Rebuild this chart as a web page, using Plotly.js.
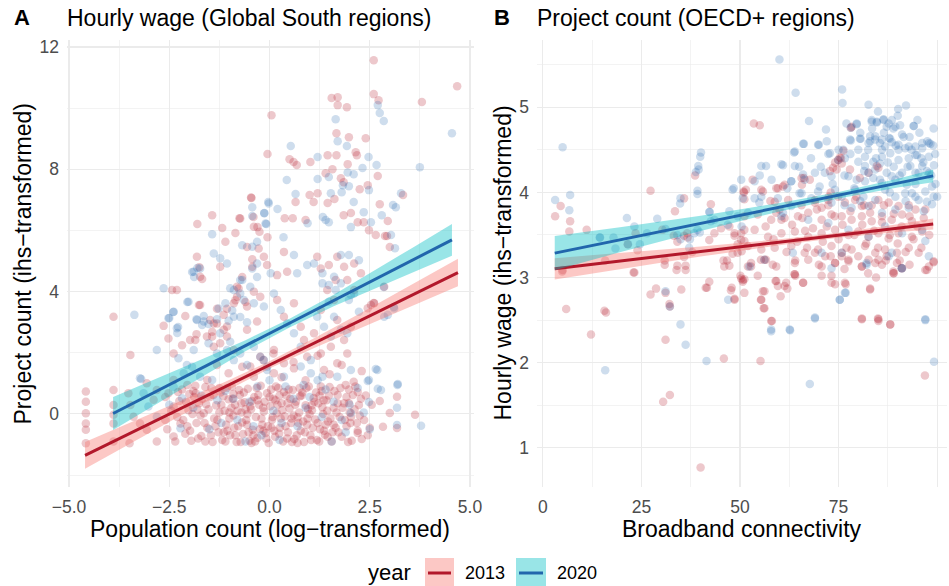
<!DOCTYPE html>
<html>
<head>
<meta charset="utf-8">
<script src="https://cdn.plot.ly/plotly-3.0.1.min.js"></script>
<style>
  html, body { margin: 0; padding: 0; background: #fff; }
  #chart { width: 949px; height: 586px; }
</style>
</head>
<body>
<div id="chart"></div>
<script>
// Panel A: Global South regions, [log population, ihs project count]
const southPts2013 = [
  [2.6,11.57],[4.68,10.72],[1.55,10.33],[1.7,10.36],[1.7,10.1],[1.93,10.03],[2.6,10.46],[2.72,10.26],[3.8,10.2],[0.05,9.77],
  [1.67,9.18],[1.98,9.05],[2.4,9.02],[-0.05,8.5],[0.5,8.33],[0.6,8.24],[0.68,8.14],[1.45,8.46],[1.67,8.46],[2.15,8.56],
  [2.18,8.46],[1.02,8.24],[1.95,8.17],[1.57,8.0],[1.4,7.87],[2.7,7.78],[1.78,7.71],[1.85,7.58],[2.45,7.48],[2.25,7.35],
  [1.0,7.16],[1.2,7.22],[3.33,7.16],[-0.45,7.06],[0.65,6.93],[1.1,6.93],[1.45,6.9],[1.62,7.03],[2.75,6.86],[-1.43,6.5],
  [-1.8,6.21],[-0.75,6.4],[-0.4,6.44],[-1.18,6.08],[-0.85,5.92],[-0.3,6.11],[0.38,6.4],[0.58,6.4],[-0.05,5.78],[0.9,6.34],
  [1.85,6.5],[2.03,6.57],[2.2,6.27],[2.35,6.27],[2.48,6.01],[2.65,5.85],[2.93,5.82],
  [-1.81,5.14],[-1.23,4.81],[-1.73,4.49],[-0.43,4.81],[-0.14,5.14],[-0.06,4.87],[0.36,5.3],[0.44,4.65],[0.19,4.54],[1.19,5.14],
  [1.28,4.76],[1.48,4.87],[1.69,5.14],[1.86,4.81],[2.11,4.92],[2.28,4.6],[1.65,4.38],[-2.43,4.05],[-2.31,4.05],[-1.73,3.56],
  [-1.48,3.07],[-2.64,2.88],[-2.52,2.47],[-2.18,2.25],[-1.85,2.42],[-2.39,1.98],[-1.43,2.69],[-1.31,2.96],[-1.14,3.24],[-0.89,3.62],
  [-0.81,3.83],[-0.56,3.51],[-0.81,4.16],[-0.39,4.0],[-0.23,3.83],[-1.56,2.53],[-1.39,2.2],[-1.06,2.53],[-0.89,2.09],[-0.56,2.75],
  [-0.31,3.02],[-0.48,1.55],[-0.23,1.87],[0.11,2.09],[0.19,3.73],[0.36,3.18],[0.61,3.62],[0.78,2.85],[0.86,2.42],[1.11,2.64],
  [1.28,3.4],[1.44,4.05],[1.61,3.73],[1.69,3.07],[1.86,2.42],[2.03,2.85],[1.94,1.98],[1.69,1.66],[1.36,1.44],[2.61,3.62],
  [2.86,4.16],[2.53,3.56],[1.94,4.38],[2.11,4.05],[0.94,1.87],[1.28,1.98],[1.53,2.2],[0.36,1.66],[0.61,1.49],[0.11,1.33],
  [-4.58,0.73],[-4.58,0.4],[-4.58,0.02],[-4.58,-0.31],[-4.58,-0.52],[-4.58,-0.96],[-3.89,3.18],[-3.89,0.78],[-3.89,0.29],[-3.89,-0.03],
  [-3.89,-0.31],[-3.89,-0.9],[-3.52,0.68],[-3.47,0.29],[-3.39,-0.09],[-3.23,-0.31],[-3.49,-0.96],[-3.47,1.93],[-3.06,1.0],[-2.81,0.78],
  [-2.89,0.46],[-3.06,-0.52],[-2.81,-0.9],[-2.52,0.68],[-2.39,0.24],[-2.6,-0.2],[-2.39,-0.74],[-2.22,-0.31],
  [3.18,0.56],[3.0,0.03],[3.63,-0.03],[3.18,-0.46],[2.83,-0.42],[2.75,0.42],[2.2,0.72],[2.23,0.29],[1.98,0.36],[2.03,-0.1],
  [2.2,-0.62],[2.6,3.63],[2.45,3.46],[2.95,6.31],[2.88,5.82],[3.0,5.46],
  [-2.1,3.2],[-1.98,2.42],[-1.82,2.61],[-1.76,3.56],[-1.75,4.8],[-1.68,4.41],[-1.1,5.63],[-0.73,6.39],[-0.46,7.08],[-0.39,6.12],
  [-0.25,5.96],[-0.56,5.46],[-0.27,5.41],[-0.43,5.06],[-0.68,4.48],[-0.77,4.1],[-0.85,3.72],[-0.6,3.66],[-1.06,3.44],[-1.31,3.44],
  [-1.39,2.96],[-1.14,2.75],[-1.43,2.53],[-1.23,2.31],[-1.06,2.86],[-1.31,1.6],[-1.02,1.33],[-0.68,1.54],[-0.39,1.22],[-0.15,1.76],
  [0.1,1.98],[-2.39,1.11],[-2.05,0.95],[-1.84,0.68],[-1.55,1.11],
  [0.3,1.2],[0.9,1.1],[1.5,1.3],[2.1,1.05],[1.8,1.6],[0.6,1.7],[1.2,1.9],[2.3,1.4],
  // dense low cluster
  [-2.25,0.42],[-2.1,-0.65],[-2.02,0.12],[-1.95,-0.88],[-1.9,0.75],[-1.82,-0.3],[-1.76,0.35],[-1.7,-0.72],[-1.64,0.02],[-1.6,0.88],
  [-1.55,-0.45],[-1.48,0.55],[-1.42,-0.92],[-1.38,-0.15],[-1.33,0.28],[-1.27,-0.6],[-1.22,0.7],[-1.18,-0.85],[-1.12,0.1],[-1.08,-0.35],
  [-1.02,0.48],[-0.98,-0.7],[-0.94,0.9],[-0.9,-0.05],[-0.86,0.3],[-0.82,-0.92],[-0.78,-0.4],[-0.74,0.62],[-0.7,0.05],[-0.66,-0.66],
  [-0.62,0.38],[-0.58,-0.2],[-0.54,0.82],[-0.5,-0.88],[-0.46,0.15],[-0.42,-0.52],[-0.38,0.55],[-0.34,-0.1],[-0.3,-0.78],[-0.26,0.3],
  [-0.22,0.92],[-0.18,-0.35],[-0.14,0.08],[-0.1,-0.62],[-0.06,0.68],[-0.02,-0.95],[0.02,0.25],[0.06,-0.2],[0.1,0.5],[0.14,-0.75],
  [0.18,0.02],[0.22,0.85],[0.26,-0.45],[0.3,0.35],[0.34,-0.9],[0.38,-0.08],[0.42,0.6],[0.46,-0.6],[0.5,0.18],[0.54,-0.3],
  [0.58,0.78],[0.62,-0.82],[0.66,0.4],[0.7,-0.12],[0.74,0.05],[0.78,-0.55],[0.82,0.7],[0.86,-0.92],[0.9,0.28],[0.94,-0.35],
  [0.98,0.9],[1.02,-0.7],[1.06,0.12],[1.1,0.52],[1.14,-0.18],[1.18,-0.85],[1.22,0.35],[1.26,-0.5],[1.3,0.75],[1.34,0.0],
  [1.38,-0.68],[1.42,0.45],[1.46,-0.25],[1.5,0.88],[1.55,-0.9],[1.6,0.2],[1.65,-0.45],[1.7,0.62],[1.75,-0.1],[1.8,-0.75],
  [1.86,0.35],[1.92,-0.4],[1.98,0.8],[2.05,-0.88],[2.12,0.15],[2.2,-0.55],[2.28,0.5],[2.36,-0.2],[2.45,-0.7],[2.55,0.3],
  [-2.3,-0.1],[-2.18,0.8],[-2.05,-0.4],[-1.88,0.55],[-1.72,-0.05],[-1.58,0.32],[-1.45,0.85],[-1.35,-0.4],[-1.25,0.05],[-1.15,0.58],
  [-1.05,-0.55],[-0.95,0.2],[-0.85,-0.7],[-0.76,0.78],[-0.68,-0.28],[-0.6,0.15],[-0.52,-0.6],[-0.44,0.42],[-0.36,-0.9],[-0.28,0.62],
  [-0.2,-0.15],[-0.12,0.4],[-0.04,-0.4],[0.04,0.8],[0.12,-0.55],[0.2,0.3],[0.28,-0.15],[0.36,0.72],[0.44,-0.8],[0.52,0.5],
  [0.6,-0.05],[0.68,-0.7],[0.76,0.58],[0.84,-0.25],[0.92,0.85],[1.0,0.0],[1.08,-0.45],[1.16,0.7],[1.24,-0.9],[1.32,0.22],
  [1.4,-0.35],[1.48,0.6],[1.57,-0.6],[1.67,0.05],[1.77,0.85],[1.88,-0.2],[1.96,-0.92],[2.08,0.62],[2.18,-0.3],[2.3,-0.82],
  [-2.6,0.55],[-2.55,-0.5],[-2.45,0.1],[-2.35,-0.9],[-2.28,0.72],[-2.15,-0.2],[-2.08,0.4],[-1.98,-0.55],[-1.92,0.0],[-1.85,0.92],
  [-1.78,-0.8],[-1.68,0.5],[-1.62,-0.3],[-1.52,0.15],[-1.46,-0.7],[-1.4,0.62],[-1.3,-0.2],[-1.2,0.3],[-1.14,-0.6],[-1.06,0.85],
  [-1.0,-0.15],[-0.92,0.5],[-0.88,-0.45],[-0.8,0.1],[-0.72,-0.92],[-0.64,0.7],[-0.56,-0.35],[-0.48,0.25],[-0.4,-0.7],[-0.32,0.85],
  [-0.24,-0.5],[-0.16,0.2],[-0.08,-0.8],[0.0,0.55],[0.08,-0.1],[0.16,0.9],[0.24,-0.65],[0.32,0.12],[0.4,-0.4],[0.48,0.8],
  [0.56,-0.92],[0.64,0.3],[0.72,-0.3],[0.8,0.6],[0.88,-0.6],[0.96,0.15],[1.04,-0.85],[1.12,0.4],[1.2,-0.3],[1.28,0.9],
  [1.36,-0.55],[1.44,0.1],[1.52,-0.15],[1.62,0.75],[1.72,-0.6],[1.82,0.2],[1.92,0.55],[2.02,-0.3],[2.14,0.9],[2.25,-0.05],
  [2.4,0.6],[2.5,-0.45],[-0.9,0.65],[-0.3,0.45],[0.25,0.6],[0.75,0.85],[1.25,0.6],[1.7,0.35],[-1.6,-0.9],[-1.1,-0.9],
  [-0.55,0.0],[0.05,-0.45],[0.55,-0.15],[1.05,0.28],[1.6,-0.35],[-1.8,0.15],[-1.25,0.85],[-0.7,0.35],[-0.15,-0.55],[0.45,0.35],
  [0.95,-0.15],[1.45,-0.75],[2.0,0.05],[-2.0,0.65],[-0.45,-0.95],[0.7,-0.95],[1.9,0.95],[-1.0,0.05],[0.15,0.45],[1.35,0.45]
];
const southPts2020 = [
  [2.7,10.1],[2.75,9.84],[2.85,9.58],[1.65,9.64],[4.55,9.18],[1.7,8.92],[0.53,8.76],[1.93,8.76],[1.2,8.4],[2.47,8.4],
  [2.67,8.14],[2.32,8.04],[3.75,8.07],[1.95,7.9],[2.1,7.84],[0.43,7.65],[1.2,7.68],[1.48,7.75],[1.83,7.48],[1.98,7.45],
  [2.48,7.32],[1.8,7.25],[1.53,7.22],[0.65,7.19],[3.28,7.22],[-0.03,6.93],[2.1,6.93],[3.15,6.76],[3.08,6.83],[-0.43,6.76],
  [-0.13,6.57],[0.2,6.7],[-0.43,6.47],[-1.43,5.88],[-0.08,6.21],[0.35,5.78],[0.95,6.24],[1.33,6.44],[1.4,6.34],[1.48,6.27],
  [2.03,6.11],[2.35,6.6],[2.53,6.27],[2.8,6.5],[3.03,5.85],
  [-1.39,5.25],[-1.23,5.09],[-1.06,4.92],[-1.89,4.65],[-1.73,4.76],[-0.73,4.38],[-0.31,4.92],[0.03,4.6],[0.61,5.2],[0.69,4.6],
  [0.94,4.87],[1.11,4.92],[1.32,4.6],[1.61,4.49],[1.78,5.2],[1.98,5.2],[2.23,5.03],[1.32,4.27],[1.48,4.22],[-2.64,4.11],
  [-2.02,3.67],[-1.81,3.07],[-1.64,3.02],[-2.39,3.34],[-2.52,3.13],[-2.31,2.8],[-2.81,2.09],[-1.89,2.09],[-2.27,1.82],[-2.06,1.6],
  [-1.27,3.45],[-1.1,3.62],[-0.89,3.18],[-0.98,4.11],[-0.73,3.94],[-0.48,4.16],[-0.64,3.73],[-0.39,3.62],[-0.14,3.51],[-1.23,2.64],
  [-0.98,2.36],[-0.73,1.98],[-0.39,2.2],[-0.14,1.76],[-0.06,1.44],[0.11,3.94],[0.28,3.4],[0.44,2.96],[0.61,2.64],[0.78,2.2],
  [1.03,1.76],[1.19,3.18],[1.36,2.85],[1.53,2.53],[1.61,3.18],[1.78,2.75],[1.94,2.64],[2.11,3.94],[1.98,3.73],[2.23,3.34],
  [2.69,1.44],[2.48,1.11],[2.78,0.78],[3.19,0.95],[2.86,3.18],[3.11,3.45],[1.78,4.27],[2.03,3.89],[1.32,1.22],[1.69,1.22],
  [2.03,1.44],[0.36,1.22],[0.78,1.55],[1.03,1.33],[1.65,4.05],[1.48,3.67],
  [-3.37,3.24],[-3.23,1.17],[-3.14,0.68],[-3.02,0.24],[-2.81,-0.09],[-2.22,-0.47],[-2.39,0.89],[-2.18,0.51],[-3.2,1.14],
  [2.65,1.47],[2.45,1.08],[2.7,0.82],[3.2,0.98],[3.18,0.2],[3.78,-0.39],[3.18,-0.36],[2.48,0.39],[2.03,0.03],[2.85,4.15],
  [2.95,3.24],[3.1,3.5],[3.13,5.42],
  [-2.5,3.14],[-2.4,3.33],[-2.28,2.84],[-2.3,2.65],[-2.05,3.66],[-1.82,3.1],[-1.68,2.91],[-1.93,4.64],[-1.88,4.48],[-1.8,4.77],
  [-0.68,5.52],[-0.43,5.47],[-0.31,5.63],[-0.13,6.56],[-0.02,6.88],[-0.1,6.23],[-0.43,4.76],[-0.68,4.38],[-0.31,4.48],[-0.89,4.05],
  [-0.93,3.38],[-0.73,3.17],[-0.56,3.0],[-1.02,3.05],[-1.31,3.1],[-1.52,2.94],[-1.64,3.2],[-1.52,2.31],[-1.31,1.98],[-1.06,2.09],
  [-0.89,1.76],[-0.56,1.6],[-0.23,1.87],[-0.06,1.54],[-2.14,1.33],[-1.93,1.54],[-1.73,1.22],[-1.43,1.11],
  [-1.9,0.2],[-1.5,-0.5],[-1.1,0.75],[-0.8,-0.2],[-0.5,0.4],[-0.2,-0.7],[0.1,0.1],[0.4,0.9],[0.7,-0.4],[1.0,0.55],
  [1.3,-0.1],[1.6,0.4],[1.9,-0.6],[2.2,0.85],[0.25,-0.85],[-1.3,0.45],[0.85,0.95],[1.55,-0.9],[-0.6,-0.9],[2.35,0.05],
  [-2.5,0.3],[-1.7,0.6],[-0.9,0.5],[-0.3,0.9],[0.3,-0.3],[0.9,0.2],[1.4,0.8],[2.0,0.3],[2.5,-0.5],[-1.2,-0.3],
  [0.6,0.5],[1.8,-0.2],[-0.4,-0.4],[1.2,1.1],[0.0,1.1]
];

// Panel B: OECD+ regions, [broadband connectivity, ihs hourly wage]
const oecdPts2013 = [
  [53.5,4.81],[55.0,4.79],[38.6,4.2],[59.2,4.05],[60.9,4.07],[53.2,4.15],[75.8,4.34],[75.6,4.4],[74.5,4.27],[77.9,4.27],
  [78.1,4.76],[82.6,4.23],[84.7,4.31],[73.0,4.0],[27.3,4.02],[4.5,3.84],[3.1,3.72],[6.9,3.66],[6.7,3.54],[11.1,3.56],
  [35.8,3.93],[33.5,3.78],[42.6,3.86],[50.9,4.01],[55.8,4.01],[57.7,3.9],[66.2,4.17],[65.7,4.09],[69,3.88],[70.7,3.82],
  [72.4,3.91],[59.2,3.76],[60.5,3.68],[23.5,3.52],[30.3,3.56],[33.2,3.49],[36.6,3.52],[45.2,3.58],[48.6,3.52],[51.1,3.56],
  [5.0,3.09],[5.9,2.63],[12.2,2.33],[15.6,2.61],[16,2.59],[23.0,3.06],[27.3,2.8],[28.7,2.87],[30.9,3.15],[31.1,2.82],
  [32.1,2.69],[32.2,2.66],[31.1,2.27],[30.5,1.54],[32.2,1.62],[33.9,3.09],[36.2,3.09],[35.1,2.86],[40.0,0.77],[41.6,2.88],
  [42.2,2.95],[45.9,2.05],[48.6,2.75],[47.9,2.88],[46,3.13],[47.3,3.14],[50.1,3.02],[50.7,2.97],[51.1,2.82],[49.4,3.29],
  [55.2,2.02],[55.3,2.74],[56,2.64],[56.2,2.84],[58.1,2.49],[59,2.96],[59.6,2.9],[60.3,2.78],[61.7,2.94],[62.0,2.87],
  [63.8,3.04],[64,3.02],[66,2.94],[52,3.13],[52.8,3.13],[55.3,3.21],[56.6,3.21],[58.3,3.15],[69,3.29],[71.6,3.25],
  [74.1,3.17],[75.8,3.25],[77.5,3.19],[73.2,3.02],[74.1,2.92],[76.8,2.92],[80.9,2.52],[83,2.87],[85,2.52],[85.1,2.49],
  [88.1,2.45],[80.9,3.13],[82.6,3.21],[84.3,3.17],[86,3.15],[87.2,3.25],[88.9,3.05],[89.8,3.17],[91,3.11],[97,3.09],
  [97.9,3.13],[99.1,3.18],[96.9,1.85],
  [78.3,4.77],[76.2,4.49],[74.9,4.38],[73.6,4.29],[72.8,4.25],[59.6,4.05],[61.3,4.09],[65.6,4.17],[67.7,4.15],[74.1,4.35],
  [75.3,4.41],[80.4,4.17],[85.1,4.29],
  [51.5,4.03],[55.4,4.03],[58.8,3.89],[62.2,3.91],[65.6,3.85],[69,3.91],[72.4,3.85],[74.9,3.95],[76.6,3.88],[79.2,3.91],
  [80.9,3.84],[83.4,3.85],[85.1,3.91],[87.7,3.88],[90.2,3.84],[92.8,3.85],[94.5,3.8],
  [51.1,3.72],[54.5,3.74],[57.9,3.68],[61.3,3.7],[64.7,3.72],[67.3,3.76],[70.7,3.68],[73.2,3.74],[75.8,3.72],[78.3,3.68],
  [80.9,3.72],[83.4,3.66],[86,3.72],[88.5,3.68],[91.1,3.74],[93.6,3.66],[96.6,3.7],
  [50.3,3.52],[53.7,3.56],[57.1,3.48],[60.5,3.52],[63.9,3.54],[67.3,3.48],[70.7,3.52],[74.1,3.56],[77.5,3.5],[80,3.54],
  [82.6,3.48],[85.1,3.52],[87.7,3.46],[90.2,3.52],[93.6,3.48],[96.2,3.54],
  [52,3.37],[55.4,3.33],[58.8,3.35],[63,3.37],[66.4,3.29],[69.8,3.33],[73.2,3.37],[75.8,3.29],[78.3,3.33],[81.7,3.37],
  [84.3,3.29],[86.8,3.33],[89.8,3.29],[92.8,3.35],[95.3,3.29],
  [52.8,3.17],[56.2,3.21],[59.2,3.13],[63.9,3.17],[67.3,3.21],[70.7,3.13],[74.1,3.17],[77.5,3.21],[80.9,3.13],[85.1,3.21],
  [88.9,3.07],[91.1,3.11],[97.4,3.09],[99.1,3.19],
  [51.1,2.98],[54.5,3.02],[59.2,2.96],[61.3,2.9],[63.9,3.04],[66,2.94],[70.7,3.02],[73.2,2.94],[76.6,2.94],[83,2.86],
  [85.1,2.51],[88.1,2.45],[80.9,2.51],[89,3.05],[55.8,2.84],[55.4,2.74],[56.2,2.64],[57.9,2.49],
  [4.9,3.07],[15.8,3.2],[24,3.32],[23.2,3.06],[21.5,3.39],[30.9,3.2],[34.1,3.42],[34.1,3.14],[35.8,3.24],[36.2,3.14],
  [37.9,3.3],[35.8,3.49],[36.7,3.47],[42.2,3.44],[43.5,3.52],[41.3,2.88],[45.8,3.2],[46.7,3.2],[48.1,3.28],[49.4,3.39],
  [51.1,3.43],[50.4,3.31],[47.3,3.6],[48.6,3.49],[50.3,3.44],[51,4.0],[51.1,3.92],[47.7,2.85],[48.6,2.74],[50.3,2.99],
  [50.7,2.95],
  [56.5,3.6],[58.5,3.45],[60,3.8],[61.8,3.3],[63.2,3.62],[64.5,3.42],[65.8,3.7],[67,3.35],[68.5,3.58],[69.5,3.8],
  [71,3.42],[72,3.6],[73,3.25],[74,3.72],[75,3.45],[76,3.62],[77,3.35],[78,3.78],[79,3.5],[80,3.25],
  [81,3.62],[82,3.4],[83,3.76],[84,3.55],[85,3.35],[86,3.65],[87,3.2],[88,3.5],[89,3.75],[90,3.4],
  [91,3.6],[92,3.3],[93,3.72],[94,3.45],[95,3.6],[96,3.35],[97,3.8],[98,3.5],[76.5,3.1],[82.5,3.05],
  [70,3.15],[64,3.2],[86.5,3.85],[79.5,3.95],[72.5,3.95],[90.5,3.2],[84.5,3.0],[66.5,3.55],[93,3.15],[81.5,3.85]
];
const oecdPts2020 = [
  [60.0,5.56],[64.1,5.17],[75.9,5.21],[76.0,5.05],[82.6,5.03],[90.1,4.98],[92.1,5.02],[67.5,4.84],[71.8,4.74],[78.1,4.76],
  [79.6,4.81],[83.4,4.85],[84.7,4.83],[86.4,4.86],[94.1,4.78],[99.1,4.75],[87.2,4.77],[88.9,4.75],[91.1,4.68],[5.0,4.53],
  [66.2,4.57],[69.8,4.56],[77.9,4.62],[80.6,4.63],[83.0,4.66],[84.3,4.62],[85.5,4.58],[86.8,4.54],[87.8,4.64],[88.5,4.59],
  [90.2,4.5],[92.8,4.54],[94.5,4.44],[96.2,4.52],[97.9,4.58],[39.9,4.42],[39.5,4.27],[55.4,4.31],[56.6,4.31],[60.9,4.32],
  [63.7,4.47],[72.8,4.46],[74.9,4.38],[76.6,4.4],[69,4.23],[71.5,4.23],[73.2,4.19],[80,4.36],[81.7,4.31],[82.6,4.23],
  [84.3,4.27],[85.5,4.34],[87.2,4.23],[89.4,4.15],[91.1,4.23],[92.3,4.09],[94.5,4.23],[96.2,4.31],[98,4.23],[98.7,4.07],
  [99.1,3.95],[100,3.95],[93.6,3.99],[95.3,3.91],[97,4.01],[3.1,3.91],[6.9,3.97],[6.7,3.79],[21.3,3.7],[34.8,3.87],
  [39.2,3.98],[42.3,3.77],[48.1,4.03],[50.3,4.15],[50.7,3.93],[53.7,3.93],[54.9,3.88],[63,4.13],[65.1,3.99],[68.1,3.93],
  [69.8,4.01],[60.9,3.76],[63,3.84],[23.2,3.6],[29,3.69],[31.1,3.57],[34.9,3.45],[38.4,3.52],[43.5,3.68],[46.9,3.62],
  [14.5,3.47],[17.9,3.47],[26.4,3.52],
  [15.8,1.91],[31.1,2.84],[32.2,2.66],[36.2,2.21],[34.9,2.45],[41.5,2.02],[47.0,2.74],[57.9,2.37],[62.7,2.38],[63.4,3.29],
  [52.4,3.13],[56.2,3.21],[70.7,3.29],[73.2,3.11],[75.3,2.74],[76.8,2.82],[69,2.52],[67.7,1.75],[82.1,3.15],[88.5,3.29],
  [91,3.11],[97.9,3.25],[97,2.5],[99.2,2.01],
  [77,4.81],[79.6,4.8],[83.4,4.83],[84.7,4.82],[86.4,4.85],[87.7,4.81],[89.4,4.77],[90.6,4.79],[94.0,4.78],[66,4.57],
  [70,4.56],[78.1,4.61],[80.4,4.63],[82.6,4.58],[84.3,4.66],[86,4.62],[88.1,4.63],[90.2,4.56],[91.9,4.52],[94.5,4.54],
  [96.2,4.58],[98.3,4.57],[63.9,4.48],[72.4,4.45],[76.2,4.5],[80,4.5],[81.7,4.42],[83.8,4.36],[86,4.42],[88.1,4.46],
  [90.2,4.38],[92.8,4.4],[94.9,4.44],[97.9,4.42],[99.2,4.32],[60.5,4.33],[63.9,4.31],[66,4.21],[77.5,4.19],[79.6,4.15],
  [81.7,4.13],[83.8,4.17],[86,4.11],[88.5,4.19],[93.2,4.31],[95.3,4.23],[97.4,4.25],[99.6,4.1],[53.7,4.13],[63,4.13],
  [66.4,4.15],[70.2,4.07],[74.1,4.03],[75.8,3.95],[79.2,4.03],[81.3,3.95],[84.3,3.91],[86.8,4.03],[89.4,3.95],[91.9,3.99],
  [94.5,3.95],[97.4,3.89],[55.4,3.95],[59.6,3.93],[65.6,3.99],[73.2,3.88],[78.3,3.82],[82.6,3.84],[86,3.76],[89.4,3.8],
  [92.8,3.82],[96.6,3.78],[98.7,3.86],[52,3.76],[60.5,3.72],[67.3,3.68],[72.4,3.64],[77.5,3.56],[82.6,3.48],[86.8,3.6],
  [91.1,3.52],[96.2,3.56],[97,3.43],[75.8,3.29],[82.1,3.17],[87.7,3.25],[91.1,3.11],[75.3,2.74],[76.6,2.82],[69,2.53],
  [57.9,2.39],[62.6,2.39],[97,2.51],
  [14.4,3.47],[18.4,3.34],[21.6,3.39],[24.6,3.39],[34.1,3.5],[34.9,3.93],[37.1,3.35],[39.2,4.02],[40.1,4.47],[39.4,4.31],
  [38.8,4.24],[37.3,3.45],[39.2,3.56],[39.8,3.53],[42.2,3.77],[42.6,3.66],[48.4,4.05],[47.3,3.78],[49.4,3.72],[50.4,3.6],
  [70.5,4.3],[72,4.6],[73.5,4.1],[75,4.5],[76.5,4.2],[78,4.45],[79,4.05],[80.5,4.7],[81.5,4.25],[82.5,4.5],
  [83.5,4.75],[84.5,4.4],[85.5,4.15],[86.5,4.7],[87.5,4.35],[88.5,4.85],[89.5,4.55],[90.5,4.2],[91.5,4.65],[92.5,4.3],
  [93.5,4.5],[94.5,4.1],[95.5,4.7],[96.5,4.35],[97.5,4.6],[98.5,4.2],[99.5,4.45],[85,4.95],[88,4.0],[92,3.9],
  [80.5,3.9],[76.5,3.85],[95,4.85],[90,4.9],[83,4.6],[86,4.5],[89,4.3],[93,4.65],[96,4.4],[99,4.55],
  [68,4.4],[65,4.3],[62,4.05],[58,4.15],[55,4.2]
];

// linear fits with 95% bands
const southFitX2013 = [-4.6, -3.5, -2.3, -1.1, 0, 1.1, 2.3, 3.5, 4.7];
const southFitY2013 = [-1.356, -0.649, 0.123, 0.895, 1.602, 2.309, 3.081, 3.853, 4.624];
const southFitLo2013 = [-1.796, -0.999, -0.117, 0.735, 1.482, 2.149, 2.841, 3.503, 4.174];
const southFitHi2013 = [-0.916, -0.299, 0.363, 1.055, 1.722, 2.469, 3.321, 4.203, 5.074];
const southFitX2020 = [-3.9, -2.8, -1.7, -0.6, 0.5, 1.6, 2.7, 3.6, 4.55];
const southFitY2020 = [0.013, 0.752, 1.492, 2.231, 2.97, 3.709, 4.448, 5.053, 5.692];
const southFitLo2020 = [-0.527, 0.342, 1.202, 2.051, 2.83, 3.519, 4.148, 4.643, 5.172];
const southFitHi2020 = [0.553, 1.162, 1.782, 2.411, 3.11, 3.899, 4.748, 5.463, 6.212];

const oecdFitX2013 = [3, 20, 40, 60, 75, 90, 99];
const oecdFitY2013 = [3.103, 3.196, 3.306, 3.415, 3.497, 3.58, 3.629];
const oecdFitLo2013 = [2.978, 3.101, 3.246, 3.38, 3.467, 3.535, 3.564];
const oecdFitHi2013 = [3.228, 3.291, 3.366, 3.45, 3.527, 3.625, 3.694];
const oecdFitX2020 = [3, 20, 40, 60, 75, 90, 99];
const oecdFitY2020 = [3.287, 3.448, 3.637, 3.826, 3.967, 4.109, 4.194];
const oecdFitLo2020 = [3.087, 3.303, 3.547, 3.776, 3.929, 4.059, 4.119];
const oecdFitHi2020 = [3.487, 3.593, 3.727, 3.876, 4.005, 4.159, 4.269];

const years = ['2013', '2020'];
const southTickVals = [-5, -2.5, 0, 2.5, 5];
const southTickText = ['\u22125.0', '\u22122.5', '0.0', '2.5', '5.0'];
const southYTicks = [0, 4, 8, 12];
const oecdTickVals = [0, 25, 50, 75, 100];
const oecdYTicks = [1, 2, 3, 4, 5];

const pointCol = {'2013': 'rgba(178,24,43,0.24)', '2020': 'rgba(33,102,172,0.22)'};
const lineCol = {'2013': '#B2182B', '2020': '#2166AC'};
const bandCol = {'2013': 'rgba(248,118,109,0.4)', '2020': 'rgba(0,191,196,0.4)'};

function points(pts, year, xa, ya) {
  return {
    type: 'scatter', mode: 'markers', xaxis: xa, yaxis: ya,
    x: pts.map(p => p[0]), y: pts.map(p => p[1]),
    marker: {size: 8.5, color: pointCol[year], line: {width: 0}},
    hoverinfo: 'skip'
  };
}

function smooth(xs, ys, lo, hi, year, xa, ya) {
  const band = {
    type: 'scatter', mode: 'lines', xaxis: xa, yaxis: ya,
    x: xs.concat(xs.slice().reverse()),
    y: hi.concat(lo.slice().reverse()),
    fill: 'toself', fillcolor: bandCol[year], line: {width: 0},
    hoverinfo: 'skip'
  };
  const line = {
    type: 'scatter', mode: 'lines', xaxis: xa, yaxis: ya,
    x: xs, y: ys, line: {color: lineCol[year], width: 3},
    hoverinfo: 'skip'
  };
  return [band, line];
}

const traces = [
  points(southPts2013, '2013', 'x', 'y'),
  points(southPts2020, '2020', 'x', 'y'),
  ...smooth(southFitX2013, southFitY2013, southFitLo2013, southFitHi2013, '2013', 'x', 'y'),
  ...smooth(southFitX2020, southFitY2020, southFitLo2020, southFitHi2020, '2020', 'x', 'y'),
  points(oecdPts2013, '2013', 'x2', 'y2'),
  points(oecdPts2020, '2020', 'x2', 'y2'),
  ...smooth(oecdFitX2013, oecdFitY2013, oecdFitLo2013, oecdFitHi2013, '2013', 'x2', 'y2'),
  ...smooth(oecdFitX2020, oecdFitY2020, oecdFitLo2020, oecdFitHi2020, '2020', 'x2', 'y2')
];

const grid = '#ebebeb';
const tickFont = {size: 17.5, color: '#4d4d4d'};
function axis(extra) {
  return Object.assign({
    showgrid: true, gridcolor: grid, gridwidth: 1.1,
    zeroline: false, showline: false, ticks: '',
    tickfont: tickFont, ticklabelstandoff: 7, fixedrange: true
  }, extra);
}

const px = v => (v - 67) / 880;   // page x -> paper
const py = v => (487 - v) / 447;  // page y -> paper

const layout = {
  width: 949, height: 586,
  margin: {l: 67, r: 2, t: 40, b: 99},
  paper_bgcolor: '#fff', plot_bgcolor: '#fff',
  showlegend: false,
  font: {family: 'Liberation Sans, Arial, sans-serif', color: '#000'},
  xaxis: axis({domain: [0, px(474)], range: [-5.05, 5.1], anchor: 'y',
    tickmode: 'array', tickvals: southTickVals, ticktext: southTickText,
    minor: {tickmode: 'linear', tick0: 0, dtick: 1.25, showgrid: true, gridcolor: grid, gridwidth: 0.6}}),
  yaxis: axis({domain: [0, 1], range: [-2.39, 12.23], anchor: 'x',
    tickmode: 'array', tickvals: southYTicks, ticktext: southYTicks.map(String),
    minor: {tickmode: 'linear', tick0: 0, dtick: 2, showgrid: true, gridcolor: grid, gridwidth: 0.6}}),
  xaxis2: axis({domain: [px(537), 1], range: [-1.5, 102.5], anchor: 'y2',
    tickmode: 'array', tickvals: oecdTickVals, ticktext: oecdTickVals.map(String),
    minor: {tickmode: 'linear', tick0: 0, dtick: 12.5, showgrid: true, gridcolor: grid, gridwidth: 0.6}}),
  yaxis2: axis({domain: [0, 1], range: [0.54, 5.79], anchor: 'x2',
    tickmode: 'array', tickvals: oecdYTicks, ticktext: oecdYTicks.map(String),
    minor: {tickmode: 'linear', tick0: 0, dtick: 0.5, showgrid: true, gridcolor: grid, gridwidth: 0.6}}),
  annotations: [
    {text: '<b>A</b>', x: px(12), y: py(18), xanchor: 'left', yanchor: 'middle', font: {size: 22}},
    {text: 'Hourly wage (Global South regions)', x: px(65), y: py(18), xanchor: 'left', yanchor: 'middle', font: {size: 23}},
    {text: '<b>B</b>', x: px(492), y: py(18), xanchor: 'left', yanchor: 'middle', font: {size: 22}},
    {text: 'Project count (OECD+ regions)', x: px(535), y: py(18), xanchor: 'left', yanchor: 'middle', font: {size: 23}},
    {text: 'Population count (log\u2212transformed)', x: px(270), y: py(529), xanchor: 'center', yanchor: 'middle', font: {size: 23}},
    {text: 'Broadband connectivity', x: px(742), y: py(529), xanchor: 'center', yanchor: 'middle', font: {size: 23}},
    {text: 'Project count (ihs\u2212transformed)', x: px(22), y: 0.5, textangle: -90, xanchor: 'center', yanchor: 'middle', font: {size: 23}},
    {text: 'Hourly wage (ihs\u2212transformed)', x: px(502), y: 0.5, textangle: -90, xanchor: 'center', yanchor: 'middle', font: {size: 23}},
    {text: 'year', x: px(366), y: py(572), xanchor: 'left', yanchor: 'middle', font: {size: 22}},
    {text: years[0], x: px(463), y: py(573), xanchor: 'left', yanchor: 'middle', font: {size: 18}},
    {text: years[1], x: px(555), y: py(573), xanchor: 'left', yanchor: 'middle', font: {size: 18}}
  ].map(a => Object.assign({xref: 'paper', yref: 'paper', showarrow: false}, a)),
  shapes: [
    {type: 'rect', x0: px(425), x1: px(454), y0: py(586), y1: py(558), fillcolor: bandCol['2013'], line: {width: 0}},
    {type: 'line', x0: px(428), x1: px(451), y0: py(573), y1: py(573), line: {color: lineCol['2013'], width: 3}},
    {type: 'rect', x0: px(516), x1: px(546), y0: py(586), y1: py(558), fillcolor: bandCol['2020'], line: {width: 0}},
    {type: 'line', x0: px(519), x1: px(543), y0: py(573), y1: py(573), line: {color: lineCol['2020'], width: 3}}
  ].map(s => Object.assign({xref: 'paper', yref: 'paper', layer: 'above'}, s))
};

Plotly.newPlot('chart', traces, layout, {displayModeBar: false, staticPlot: true});
</script>
</body>
</html>
